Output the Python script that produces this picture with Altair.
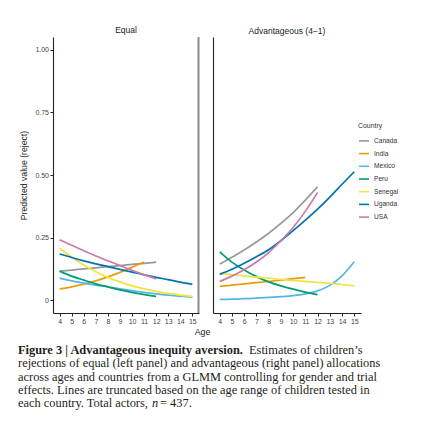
import altair as alt
import pandas as pd

countries = ["Canada", "India", "Mexico", "Peru", "Senegal", "Uganda", "USA"]
colors = ["#999999", "#E69F00", "#56B4E9", "#009E73", "#F0E442", "#0072B2", "#CC79A7"]
start_age = {"Canada": 4, "India": 4, "Mexico": 4, "Peru": 4, "Senegal": 4, "Uganda": 4, "USA": 4}

equal_vals = {
    "Canada": [0.117, 0.121, 0.126, 0.130, 0.135, 0.139, 0.144, 0.148, 0.153],
    "India": [0.046, 0.054, 0.065, 0.078, 0.094, 0.112, 0.132, 0.153],
    "Mexico": [0.089, 0.078, 0.069, 0.061, 0.054, 0.046, 0.039, 0.032, 0.026, 0.021, 0.017, 0.013],
    "Peru": [0.117, 0.097, 0.081, 0.066, 0.054, 0.042, 0.032, 0.023, 0.016],
    "Senegal": [0.208, 0.172, 0.141, 0.114, 0.092, 0.074, 0.058, 0.046, 0.036, 0.028, 0.021, 0.016],
    "Uganda": [0.185, 0.171, 0.158, 0.146, 0.135, 0.124, 0.113, 0.102, 0.092, 0.083, 0.073, 0.064],
    "USA": [0.242, 0.220, 0.198, 0.177, 0.158, 0.139, 0.120, 0.103, 0.086],
}
adv_vals = {
    "Canada": [0.145, 0.172, 0.201, 0.233, 0.268, 0.307, 0.350, 0.400, 0.453],
    "India": [0.056, 0.061, 0.066, 0.071, 0.076, 0.081, 0.087, 0.092],
    "Mexico": [0.004, 0.005, 0.007, 0.009, 0.012, 0.015, 0.019, 0.026, 0.038, 0.060, 0.098, 0.154],
    "Peru": [0.194, 0.153, 0.121, 0.095, 0.074, 0.058, 0.045, 0.033, 0.023],
    "Senegal": [0.108, 0.103, 0.098, 0.093, 0.089, 0.084, 0.080, 0.076, 0.072, 0.068, 0.063, 0.058],
    "Uganda": [0.104, 0.124, 0.148, 0.174, 0.202, 0.238, 0.278, 0.320, 0.364, 0.412, 0.463, 0.513],
    "USA": [0.076, 0.097, 0.122, 0.153, 0.191, 0.238, 0.291, 0.355, 0.430],
}
x_ticks = list(range(4, 16))
y_ticks = [0, 0.25, 0.5, 0.75, 1.0]

caption_bold = "Figure 3 | Advantageous inequity aversion."
caption_lines = [
    "Estimates of children\u2019s",
    "rejections of equal (left panel) and advantageous (right panel) allocations",
    "across ages and countries from a GLMM controlling for gender and trial",
    "effects. Lines are truncated based on the age range of children tested in",
    "each country. Total actors,",
    "= 437.",
]


def build_df(vals):
    rows = []
    for c in countries:
        for i, v in enumerate(vals[c]):
            rows.append({"country": c, "age": start_age[c] + i, "value": v})
    return pd.DataFrame(rows)


FONT = "Liberation Sans"
xscale = alt.Scale(domain=[3.45, 15.55], nice=False, zero=False)
yscale = alt.Scale(domain=[-0.05, 1.05], nice=False, zero=False)
cscale = alt.Scale(domain=countries, range=colors)

W_L, W_R, H = 146, 148, 276


def panel(vals, title, left):
    df = build_df(vals)
    if left:
        xaxis = alt.Axis(values=x_ticks, title="Age", titleX=149, titleY=21,
                         titleBaseline="alphabetic", titleFontSize=8.8,
                         titleFontWeight="normal", titleColor="#222")
        yaxis = alt.Axis(values=y_ticks, title="Predicted value (reject)",
                         labelExpr="datum.value == 0 ? '0' : format(datum.value, '.2f')",
                         titleX=-25, titleY=H / 2, titleFontSize=8.7,
                         titleFontWeight="normal", titleColor="#222")
    else:
        xaxis = alt.Axis(values=x_ticks, title=None)
        yaxis = alt.Axis(values=y_ticks, title=None, labels=False, ticks=False)
    lines = alt.Chart(df).mark_line(strokeWidth=1.7, interpolate="monotone").encode(
        x=alt.X("age:Q", scale=xscale, axis=xaxis),
        y=alt.Y("value:Q", scale=yscale, axis=yaxis),
        color=alt.Color("country:N", scale=cscale, sort=countries,
                        legend=alt.Legend(title="Country", orient="none",
                                          legendX=305, legendY=86,
                                          symbolType="stroke", symbolSize=100,
                                          symbolStrokeWidth=1.6, rowPadding=2.7,
                                          labelFontSize=6.6, titleFontSize=6.9,
                                          titleFontWeight="normal", titleColor="#333",
                                          labelColor="#333", titlePadding=5)),
    )
    layers = [lines]
    if left:
        edge = alt.Chart(pd.DataFrame({"k": [0]})).mark_rule(color="#8a8a8a", strokeWidth=2).encode(
            x=alt.value(W_L - 0.5)
        )
        layers.append(edge)
    return alt.layer(*layers).properties(
        width=W_L if left else W_R, height=H,
        title=alt.TitleParams(title, fontSize=8.5, fontWeight="normal", color="#222", offset=2),
    )


left = panel(equal_vals, "Equal", True)
right = panel(adv_vals, "Advantageous (4\u22121)", False)
plots = alt.hconcat(left, right, spacing=3)

cap_df_b = pd.DataFrame({"text": [caption_bold], "x": [-35], "y": [10]})
cap_df_r = pd.DataFrame({
    "text": caption_lines,
    "x": [196, -35, -35, -35, -35, 107],
    "y": [10, 23.3, 36.6, 50, 63.3, 63.3],
})
cap_df_i = pd.DataFrame({"text": ["n"], "x": [99], "y": [63.3]})

cap_base = dict(align="left", baseline="alphabetic", font="Liberation Serif",
                fontSize=12.4, color="#231f20")
cap_b = alt.Chart(cap_df_b).mark_text(fontWeight="bold", **cap_base).encode(
    x=alt.X("x:Q", scale=None), y=alt.Y("y:Q", scale=None), text="text:N")
cap_r = alt.Chart(cap_df_r).mark_text(**cap_base).encode(
    x=alt.X("x:Q", scale=None), y=alt.Y("y:Q", scale=None), text="text:N")
cap_i = alt.Chart(cap_df_i).mark_text(fontStyle="italic", **cap_base).encode(
    x=alt.X("x:Q", scale=None), y=alt.Y("y:Q", scale=None), text="text:N")
caption = alt.layer(cap_b, cap_r, cap_i).properties(width=297, height=68)

chart = alt.vconcat(plots, caption, spacing=8).properties(
    padding={"left": 10, "top": 17, "right": 0, "bottom": 0}
).configure_view(stroke=None).configure_axis(
    grid=False, domainColor="#222", domainWidth=1.1, tickColor="#222", tickSize=3,
    labelColor="#444", labelFontSize=7, labelPadding=1.5, labelFont=FONT, titleFont=FONT,
).configure_legend(labelFont=FONT, titleFont=FONT).configure_title(font=FONT)

chart.save("out.html", embed_options={"renderer": "svg", "actions": False})
